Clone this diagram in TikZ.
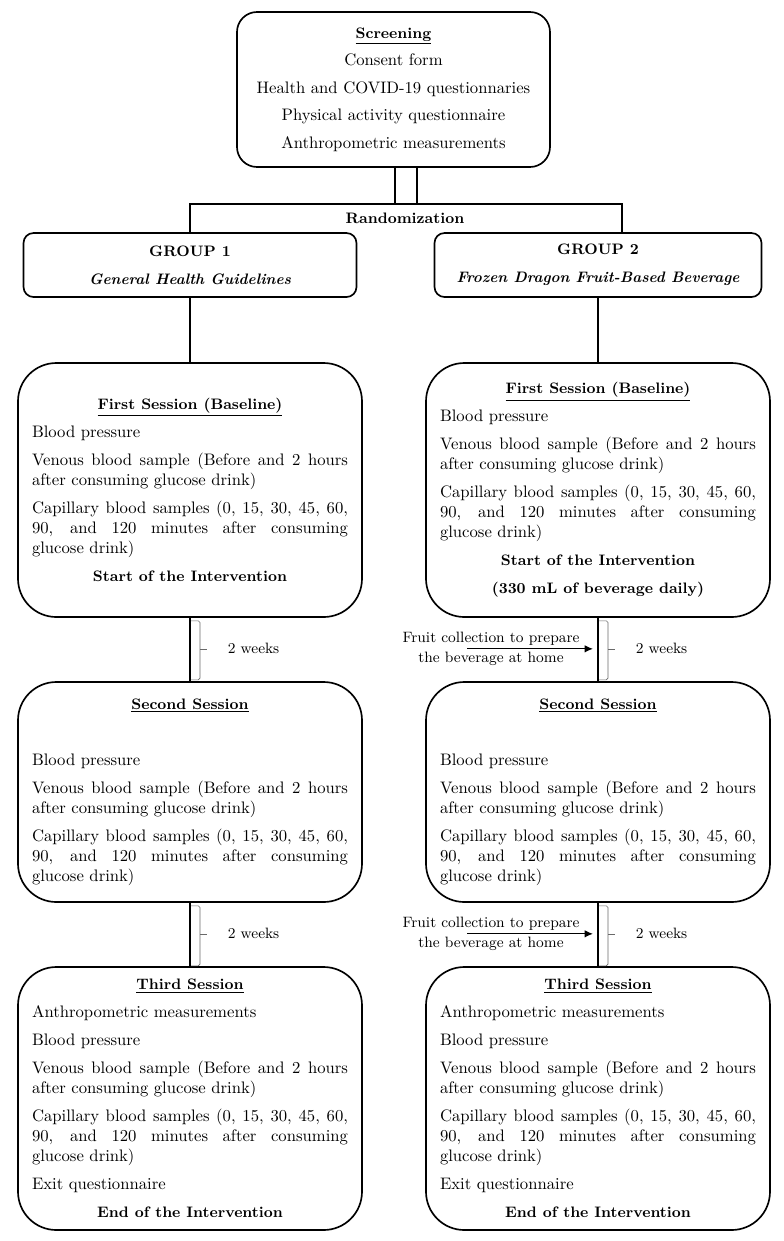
\documentclass[tikz,border=0pt]{standalone}
\usepackage{xcolor}
\usepackage{tikz}
\usetikzlibrary{arrows.meta, calc}
\definecolor{bracegray}{RGB}{105, 105, 105}
\newcommand{\bt}[1]{{\fontsize{9.1}{12}\selectfont\bfseries #1}}
\newcommand{\boxtitle}[1]{\hspace*{\fill}\underline{\bt{#1}}\hspace*{\fill}\par}
\newcommand{\midline}[1]{\hspace*{\fill}\bt{#1}\hspace*{\fill}\par}
\hbadness=10000

\begin{document}
\begin{tikzpicture}[x=0.6pt, y=-0.6pt, line width=1pt,
        topbox/.style={draw, rounded corners=12pt, align=center, minimum width=187.8pt, minimum height=93pt, font={\fontsize{10}{16.5}\selectfont}},
        grpbox/.style={draw, rounded corners=6pt, align=center, minimum width=199.8pt, minimum height=38.4pt, font={\fontsize{10}{16.8}\selectfont}},
        sessbox/.style={draw, rounded corners=23pt, text width=189.6pt, inner xsep=8.4pt, align=justify, font={\fontsize{10}{12}\selectfont\parskip=4.8pt\parindent=0pt}},
        brk/.style={draw=bracegray, line width=0.4pt, rounded corners=1pt},
        wk/.style={font={\fontsize{9}{12}\selectfont}, anchor=west, inner sep=0pt},
        fruit/.style={font={\fontsize{9}{12}\selectfont}, align=center, inner sep=0pt},
        arr/.style={-{Latex[length=5pt, width=4.5pt]}, line width=0.7pt}]
        \useasboundingbox (0,0) rectangle (784,1241);

        % 筛选
        \node[topbox] (scr) at (393.5,89.5) {\underline{\bt{Screening}}\\Consent form\\Health and COVID-19 questionnaries\\Physical activity questionnaire\\Anthropometric measurements};

        % 随机分组
        \node (rnd) at (405,218) {\bt{Randomization}};
        \coordinate (jl) at (190,204);
        \coordinate (jr) at (622,204);
        \coordinate (dl) at (395,204);
        \coordinate (dr) at (417,204);
        \node[grpbox] (g1) at (190,265) {\bt{GROUP 1}\\\bt{\itshape General Health Guidelines}};
        \node[grpbox, minimum width=196.2pt] (g2) at (598,265) {\bt{GROUP 2}\\\bt{\itshape Frozen Dragon Fruit-Based Beverage}};
        \draw (dl |- scr.south) -- (dl);
        \draw (dr |- scr.south) -- (dr);
        \draw (g1.north) -- (jl) -- (jr) -- (jr |- g2.north);

        % 第一组
        \node[sessbox, minimum height=152.4pt] (s1a) at (190,490) {\boxtitle{First Session (Baseline)}
            Blood pressure\par
            Venous blood sample (Before and 2 hours\linebreak after consuming glucose drink)\par
            Capillary blood samples (0, 15, 30, 45, 60,\linebreak 90, and 120 minutes after consuming\linebreak glucose drink)\par
            \midline{Start of the Intervention}};
        \node[sessbox, minimum height=132pt] (s2a) at (190,792) {\boxtitle{Second Session}
            \mbox{}\par
            Blood pressure\par
            Venous blood sample (Before and 2 hours\linebreak after consuming glucose drink)\par
            Capillary blood samples (0, 15, 30, 45, 60,\linebreak 90, and 120 minutes after consuming\linebreak glucose drink)};
        \node[sessbox, minimum height=157.8pt] (s3a) at (190,1098.5) {\boxtitle{Third Session}
            Anthropometric measurements\par
            Blood pressure\par
            Venous blood sample (Before and 2 hours\linebreak after consuming glucose drink)\par
            Capillary blood samples (0, 15, 30, 45, 60,\linebreak 90, and 120 minutes after consuming\linebreak glucose drink)\par
            Exit questionnaire\par
            \midline{End of the Intervention}};
        \draw (g1) -- (s1a);
        \draw (s1a) -- (s2a);
        \draw (s2a) -- (s3a);
        \draw[brk] ($(s1a.south)+(1,3)$) -- ++(9,0) -- ++(0,59) -- ++(-9,0);
        \draw[brk] ($(s1a.south)+(10,31)$) -- ++(7,0);
        \draw[brk] ($(s2a.south)+(1,3)$) -- ++(9,0) -- ++(0,60) -- ++(-9,0);
        \draw[brk] ($(s2a.south)+(10,31)$) -- ++(7,0);
        \node[wk] (w1a) at ($(s1a.south)+(37,31)$) {2 weeks};
        \node[wk] (w2a) at ($(s2a.south)+(37,31)$) {2 weeks};

        % 第二组
        \node[sessbox, minimum height=152.4pt] (s1b) at (598,490) {\boxtitle{First Session (Baseline)}
            Blood pressure\par
            Venous blood sample (Before and 2 hours\linebreak after consuming glucose drink)\par
            Capillary blood samples (0, 15, 30, 45, 60,\linebreak 90, and 120 minutes after consuming\linebreak glucose drink)\par
            \midline{Start of the Intervention}
            \midline{(330 mL of beverage daily)}};
        \node[sessbox, minimum height=132pt] (s2b) at (598,792) {\boxtitle{Second Session}
            \mbox{}\par
            Blood pressure\par
            Venous blood sample (Before and 2 hours\linebreak after consuming glucose drink)\par
            Capillary blood samples (0, 15, 30, 45, 60,\linebreak 90, and 120 minutes after consuming\linebreak glucose drink)};
        \node[sessbox, minimum height=157.8pt] (s3b) at (598,1098.5) {\boxtitle{Third Session}
            Anthropometric measurements\par
            Blood pressure\par
            Venous blood sample (Before and 2 hours\linebreak after consuming glucose drink)\par
            Capillary blood samples (0, 15, 30, 45, 60,\linebreak 90, and 120 minutes after consuming\linebreak glucose drink)\par
            Exit questionnaire\par
            \midline{End of the Intervention}};
        \draw (g2) -- (s1b);
        \draw (s1b) -- (s2b);
        \draw (s2b) -- (s3b);
        \draw[brk] ($(s1b.south)+(1,3)$) -- ++(9,0) -- ++(0,59) -- ++(-9,0);
        \draw[brk] ($(s1b.south)+(10,31)$) -- ++(7,0);
        \draw[brk] ($(s2b.south)+(1,3)$) -- ++(9,0) -- ++(0,60) -- ++(-9,0);
        \draw[brk] ($(s2b.south)+(10,31)$) -- ++(7,0);
        \node[wk] (w1b) at ($(s1b.south)+(37,31)$) {2 weeks};
        \node[wk] (w2b) at ($(s2b.south)+(37,31)$) {2 weeks};
        \node[fruit] (fr1) at ($(s1b.south)+(-107,31)$) {Fruit collection to prepare\\the beverage at home};
        \node[fruit] (fr2) at ($(s2b.south)+(-107,31)$) {Fruit collection to prepare\\the beverage at home};
        \draw[arr] ($(fr1.center)+(-24,0)$) -- ($(s1b.south)+(-5,31)$);
        \draw[arr] ($(fr2.center)+(-24,0)$) -- ($(s2b.south)+(-5,31)$);
    \end{tikzpicture}
\end{document}
